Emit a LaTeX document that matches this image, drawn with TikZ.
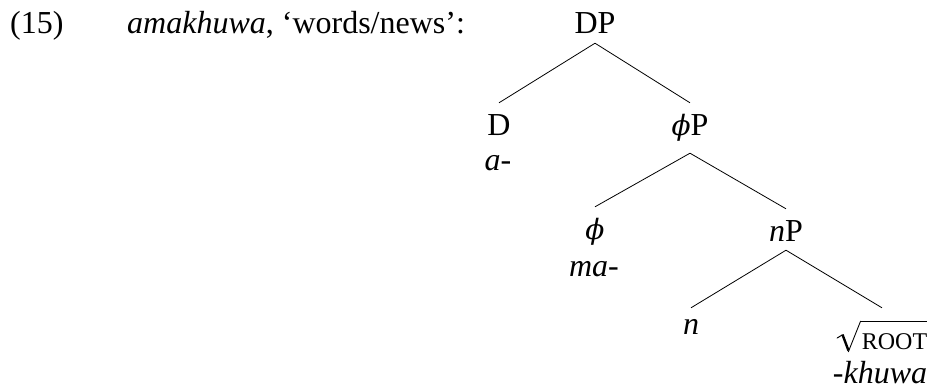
\documentclass[tikz,border=0pt]{standalone}
\usepackage{fontspec}
\setmainfont{Liberation Serif}
\newfontfamily\phifont{DejaVu Serif}
\newcommand{\fsz}{\fontsize{32}{38}\selectfont}
\newcommand{\myphi}{{\phifont\itshape\fontsize{28}{34}\selectfont ϕ}}
\tikzset{
  tn/.style={font=\fsz, inner xsep=0pt, inner ysep=0pt, text height=32pt, text depth=9pt, anchor=base},
  gl/.style={font=\fsz, inner sep=0pt, anchor=base},
  br/.style={line width=0.8pt, black},
}
\begin{document}
\begin{tikzpicture}[x=1pt,y=-1pt]
\useasboundingbox (0,0) rectangle (929,388);
\node[gl, anchor=base west] (num) at (10,34) {(15)};
\node[gl, anchor=base west] (gloss) at (127,34) {\textit{amakhuwa}, ‘words/news’:};
\node[tn] (DP) at (595,34) {DP};
\node[tn] (D) at (499,135) {D};
\node[tn, text depth=18pt] (phiP) at (690,135) {\myphi P};
\node[tn] (phi) at (595,239) {\myphi};
\node[tn] (nP) at (786,241) {\textit{n}P};
\node[tn, text height=26pt] (n) at (691,334) {\textit{n}};
\node[tn, text height=41pt] (root) at (882,349) {\hspace*{25pt}{\fontsize{24}{24}\selectfont ROOT}};
\begin{scope}[shift={(root.base west)}]
  \draw[line width=1pt, line cap=round] (0.5,-11) -- (5.5,-14);
  \draw[line width=2.4pt] (5.8,-14.5) -- (11.8,1.5);
  \draw[line width=0.9pt] (11.6,3) -- (24,-28);
\end{scope}
\draw[line width=0.9pt] ([xshift=24pt,yshift=28pt]root.base west) -- ([yshift=28pt]root.base east);
\node[gl] (a) at (498,170) {\textit{a}-};
\node[gl] (ma) at (594,276) {\textit{ma}-};
\node[gl] (khuwa) at (880,383) {-\textit{khuwa}};
\draw[br] (DP.south) -- (D.north);
\draw[br] (DP.south) -- (phiP.north);
\draw[br] (phiP.south) -- (phi.north);
\draw[br] (phiP.south) -- (nP.north);
\draw[br] (nP.south) -- (n.north);
\draw[br] (nP.south) -- (root.north);
\end{tikzpicture}
\end{document}
